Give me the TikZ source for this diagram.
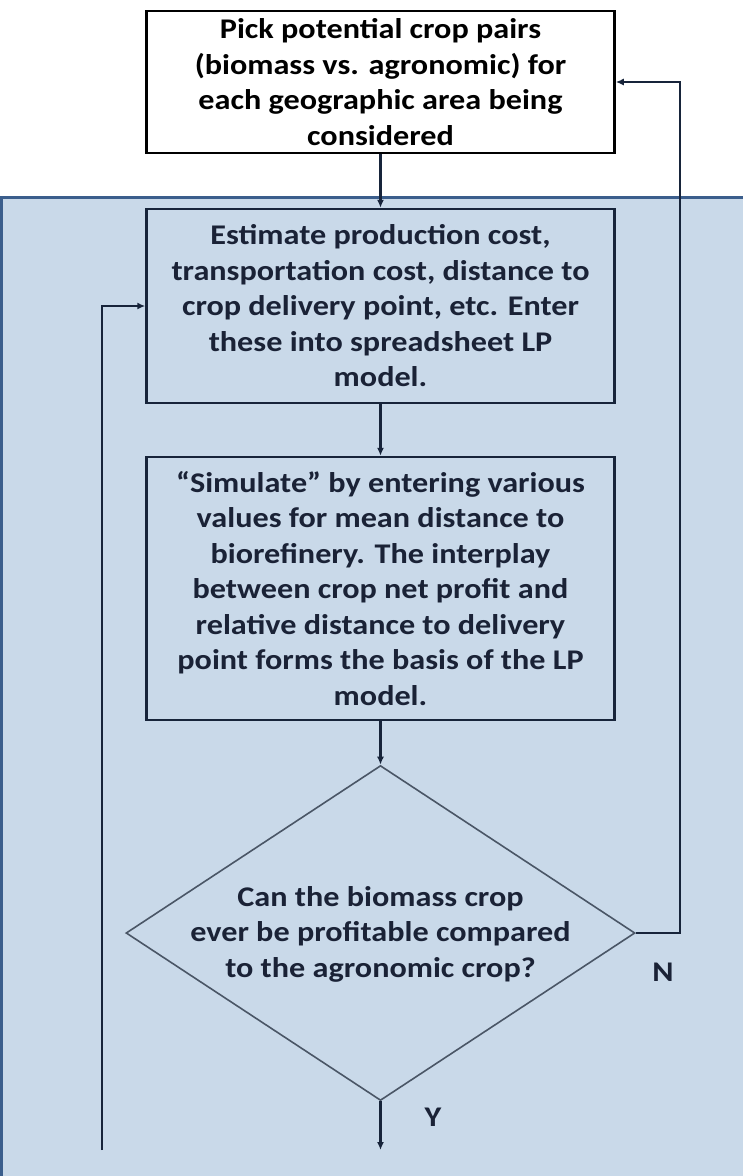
\documentclass[tikz,border=0pt]{standalone}
\usepackage{fontspec}
\setmainfont{Carlito}[FakeStretch=1.13]
\usetikzlibrary{shapes.geometric,arrows.meta}
\definecolor{panelfill}{HTML}{C9D9E9}
\definecolor{panelborder}{HTML}{3B5E8C}
\definecolor{navy}{HTML}{17243A}
\definecolor{txt}{HTML}{1A2236}
\definecolor{dgray}{HTML}{4A5666}
\begin{document}
\begin{tikzpicture}[x=1pt,y=-1pt,
  every node/.style={font=\fontsize{28.5}{35.5}\selectfont\bfseries, text=txt},
  procbox/.style={draw=navy, line width=2.5pt, inner sep=0pt, align=center, minimum width=468pt},
  arr/.style={draw=navy, line width=2.4pt, -{Latex[length=8pt,width=7pt]}}]
\useasboundingbox (0,0) rectangle (743,1176);
\fill[white] (0,0) rectangle (743,1176);
\fill[panelfill] (0,196) rectangle (743,1176);
\draw[panelborder, line width=3pt] (1.5,1176) -- (1.5,197.5) -- (743,197.5);

\node[procbox, draw=black, fill=white, text=black, minimum height=142pt] (top) at (380.5,82)
  {Pick potential crop pairs\\(biomass vs. agronomic) for\\each geographic area being\\considered};
\node[procbox, minimum height=194pt] (est) at (380.5,306)
  {Estimate production cost,\\transportation cost, distance to\\crop delivery point, etc. Enter\\these into spreadsheet LP\\model.};
\node[procbox, minimum height=263pt] (sim) at (380.5,588.5)
  {``Simulate'' by entering various\\values for mean distance to\\biorefinery. The interplay\\between crop net profit and\\relative distance to delivery\\point forms the basis of the LP\\model.};
\node[diamond, draw=dgray, line width=1.6pt, inner sep=0pt, minimum width=509pt, minimum height=335pt] (dec) at (380.5,933) {};
\node[align=center] (dectext) at (380.5,934)
  {Can the biomass crop\\ever be profitable compared\\to the agronomic crop?};

\node (N) at (663,972) {N};
\node (Y) at (433,1117) {Y};

\coordinate (ybot) at (380.5,1150);
\coordinate (lb) at (102,1150);

\draw[arr] (top.south) -- (est.north);
\draw[arr] (est.south) -- (sim.north);
\draw[arr] (sim.south) -- (dec.north);
\draw[arr] (dec.east) -- ++(44,0) |- (top.east);
\draw[arr] (dec.south) -- (ybot);
\draw[arr] (lb) |- (est.west);
\end{tikzpicture}
\end{document}
